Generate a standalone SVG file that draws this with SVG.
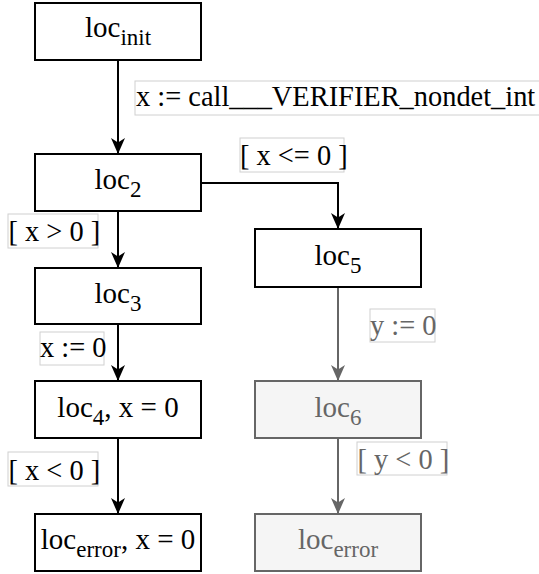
<svg xmlns="http://www.w3.org/2000/svg" width="539" height="574" viewBox="0 0 539 574">
<style>
.n{fill:#fff;stroke:#000;stroke-width:2}
.g{fill:#f5f5f5;stroke:#666;stroke-width:2}
.t{font-family:"Liberation Serif","Times New Roman",serif;font-size:29px;fill:#000;text-anchor:middle}
.s{font-size:23px}
.lb{fill:#fff;stroke:#d0d0d0;stroke-width:1}
.l{font-family:"Liberation Serif","Times New Roman",serif;font-size:28.4px;fill:#000}
.tg{fill:#666}
.e{fill:none;stroke:#000;stroke-width:2}
.eg{fill:none;stroke:#666;stroke-width:2}
</style>
<defs>
<marker id="a" viewBox="0 0 16 14" refX="16" refY="7" markerWidth="16" markerHeight="14" markerUnits="userSpaceOnUse" orient="auto"><path d="M16,7 L0,0 L4.5,7 L0,14 Z" fill="#000"/></marker>
<marker id="ag" viewBox="0 0 16 14" refX="16" refY="7" markerWidth="16" markerHeight="14" markerUnits="userSpaceOnUse" orient="auto"><path d="M16,7 L0,0 L4.5,7 L0,14 Z" fill="#666"/></marker>
</defs>
<g id="connectors">
<path class="e" d="M118,60 V154" marker-end="url(#a)"/>
<path class="e" d="M201,183 H338 V229" marker-end="url(#a)"/>
<path class="e" d="M118,211 V268" marker-end="url(#a)"/>
<path class="e" d="M118,324 V381" marker-end="url(#a)"/>
<path class="e" d="M118,438 V514" marker-end="url(#a)"/>
<path class="eg" d="M338,287 V381" marker-end="url(#ag)"/>
<path class="eg" d="M338,438 V514" marker-end="url(#ag)"/>
</g>
<g id="labels">
<g id="lbl-call"><rect class="lb" x="135" y="81" width="410" height="34"/><text class="l" x="136" y="106">x := call___VERIFIER_nondet_int</text></g>
<g id="lbl-xle0"><rect class="lb" x="240" y="138" width="104" height="34"/><text class="l" x="240" y="165">[ x &lt;= 0 ]</text></g>
<g id="lbl-xgt0"><rect class="lb" x="8" y="214" width="90" height="34"/><text class="l" x="8.5" y="241">[ x &gt; 0 ]</text></g>
<g id="lbl-y0"><rect class="lb" x="370" y="309" width="65" height="33"/><text class="l tg" x="370" y="335">y := 0</text></g>
<g id="lbl-x0"><rect class="lb" x="40" y="332" width="64" height="33"/><text class="l" x="40" y="357">x := 0</text></g>
<g id="lbl-xlt0"><rect class="lb" x="8" y="452" width="90" height="34"/><text class="l" x="8.5" y="480">[ x &lt; 0 ]</text></g>
<g id="lbl-ylt0"><rect class="lb" x="357" y="442" width="90" height="33"/><text class="l tg" x="357.5" y="469">[ y &lt; 0 ]</text></g>
</g>
<g id="loc_init"><rect class="n" x="35" y="3" width="166" height="57"/><text class="t" x="118" y="37">loc<tspan class="s" dy="7.5">init</tspan></text></g>
<g id="loc_2"><rect class="n" x="35" y="154" width="166" height="57"/><text class="t" x="118" y="189">loc<tspan class="s" dy="7.5">2</tspan></text></g>
<g id="loc_5"><rect class="n" x="255" y="229" width="166" height="58"/><text class="t" x="338" y="265">loc<tspan class="s" dy="7.5">5</tspan></text></g>
<g id="loc_3"><rect class="n" x="35" y="268" width="166" height="56"/><text class="t" x="118" y="303">loc<tspan class="s" dy="7.5">3</tspan></text></g>
<g id="loc_6"><rect class="g" x="255" y="381" width="166" height="57"/><text class="t tg" x="338" y="417">loc<tspan class="s" dy="7.5">6</tspan></text></g>
<g id="loc_4"><rect class="n" x="35" y="381" width="166" height="57"/><text class="t" x="118" y="417">loc<tspan class="s" dy="7.5">4</tspan><tspan dy="-7.5">, x = 0</tspan></text></g>
<g id="loc_error_x0"><rect class="n" x="35" y="514" width="166" height="57"/><text class="t" x="118" y="549">loc<tspan class="s" dy="7.5">error</tspan><tspan dy="-7.5">, x = 0</tspan></text></g>
<g id="loc_error"><rect class="g" x="255" y="514" width="166" height="57"/><text class="t tg" x="338" y="549">loc<tspan class="s" dy="7.5">error</tspan></text></g>
</svg>
